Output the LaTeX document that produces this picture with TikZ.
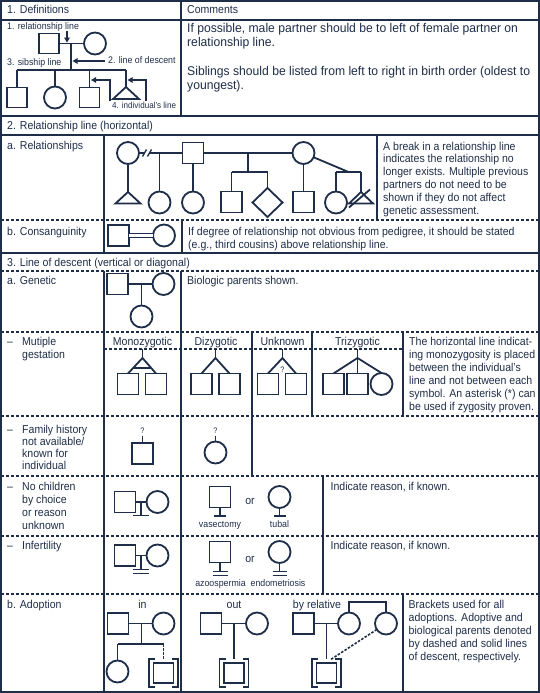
\documentclass[tikz,border=0pt]{standalone}
\usepackage{fontspec}
\setmainfont{Liberation Sans}[FakeStretch=0.92]
\newfontfamily\cfont{Liberation Sans}[FakeStretch=0.96]
\usetikzlibrary{arrows.meta}
\definecolor{ink}{RGB}{30,45,72}
\newcommand\fmain{\fontsize{11.5}{13}\selectfont}
\newcommand\fcom{\cfont\fontsize{12.7}{14}\selectfont}
\newcommand\fsmall{\fontsize{9.6}{11}\selectfont}
\newcommand\fqm{\fontsize{8}{9}\selectfont}
\newcommand\txtpara[5]{\foreach \myline [count=\ii] in {#5} {\node[tx] (#1-\ii) at (#2,{#3+(\ii-1)*#4}) {\myline};}}
\newcommand\adoptbrk[1]{%
 \draw[pl] ([xshift=1.5bp,yshift=4bp]#1.north west) -- ++(-6bp,0bp) |- ([xshift=1.5bp,yshift=-4bp]#1.south west);
 \draw[pl] ([xshift=-1.5bp,yshift=4bp]#1.north east) -- ++(6bp,0bp) |- ([xshift=-1.5bp,yshift=-4bp]#1.south east);}
\tikzset{
  tl/.style={draw=ink, line width=1.9bp},
  td/.style={draw=ink, line width=1.5bp, dash pattern=on 3bp off 2bp},
  pl/.style={draw=ink, line width=1.8bp},
  pd/.style={draw=ink, line width=1.6bp, dash pattern=on 2.5bp off 1.5bp},
  sq/.style={rectangle, draw=ink, line width=1.8bp, minimum size=21bp, inner sep=0pt, outer sep=0pt},
  ci/.style={circle, draw=ink, line width=1.8bp, minimum size=22bp, inner sep=0pt, outer sep=0pt},
  tx/.style={text=ink, font=\fmain, inner sep=0pt, anchor=base west},
  tcom/.style={text=ink, font=\fcom, inner sep=0pt, anchor=base west},
  tc/.style={text=ink, font=\fmain, inner sep=0pt, anchor=base},
  ts/.style={text=ink, font=\fsmall, inner sep=0pt, anchor=base west},
  tsc/.style={text=ink, font=\fsmall, inner sep=0pt, anchor=base},
  tq/.style={text=ink, font=\fqm, inner sep=0pt, anchor=base},
  arr/.style={pl, -{Triangle[length=5bp,width=5.5bp]}},
}
\begin{document}
\begin{tikzpicture}[x=1bp,y=-1bp]
\useasboundingbox (0,0) rectangle (540,693);
% ---------------- table grid ----------------
\draw[tl, line width=2bp] (1,1) rectangle (539,692);
\foreach \yy in {20,116,135,253} {\draw[tl] (1,\yy) -- (539,\yy);}
\foreach \yy in {220,271,332,416,476,536,594} {\draw[td] (1,\yy) -- (539,\yy);}
\draw[td] (104,349) -- (403,349);
\draw[tl] (181,1) -- (181,116);
\draw[tl] (104,135) -- (104,253);
\draw[tl] (377,135) -- (377,220);
\draw[tl] (182,220) -- (182,253);
\draw[tl] (104,271) -- (104,692);
\draw[tl] (181,271) -- (181,692);
\draw[tl] (252,332) -- (252,476);
\draw[tl] (312,332) -- (312,416);
\draw[tl] (403,332) -- (403,416);
\draw[tl] (323,476) -- (323,594);
\draw[tl] (403,594) -- (403,692);
% ---------------- section 1 ----------------
\node[tx] (h1) at (7,14) {1. Definitions};
\node[tx] (h1c) at (187,14) {Comments};
\node[tcom] (c1t-1) at (187,33) {If possible, male partner should be to left of female partner on};
\node[tcom] (c1t-2) at (187,46.5) {relationship line.};
\node[tcom] (c1s-1) at (187,76) {Siblings should be listed from left to right in birth order (oldest to};
\node[tcom] (c1s-2) at (187,89.5) {youngest).};
\node[ts] (l1) at (7,29.5) {1. relationship line};
\node[ts] (l2) at (108,64) {2. line of descent};
\node[ts] (l3) at (7,66) {3. sibship line};
\node[ts, font=\fontsize{8.8}{10}\selectfont] (l4) at (112,109) {4. individual's line};
\node[sq, minimum size=20bp] (p1) at (49,43.5) {};
\node[ci] (p2) at (95,43.5) {};
\draw[pl] (p1) -- (p2);
\coordinate (d1) at (71,43.5); \coordinate (s1) at (71,70);
\draw[pl] (d1) -- (s1);
\coordinate (sa) at (17,70); \coordinate (sb) at (55,70);
\coordinate (sc) at (89.5,70); \coordinate (sd) at (126,70);
\draw[pl] (sa) -- (sd);
\node[sq, minimum size=20bp] (k1) at (17,97.5) {};
\node[ci] (k2) at (55,97.5) {};
\node[sq, minimum size=20bp] (k3) at (89.5,97.5) {};
\coordinate (k4) at (126,87);
\draw[pl, line join=miter] (k4) -- (113,99) -- (139,99) -- cycle;
\draw[pl] (sa) -- (k1); \draw[pl] (sb) -- (k2); \draw[pl] (sc) -- (k3); \draw[pl] (sd) -- (k4);
\coordinate (a1s) at (67,31); \coordinate (a1e) at (67,42.6);
\draw[arr] (a1s) -- (a1e);
\coordinate (a2s) at (105,61); \coordinate (a2e) at (72.5,61);
\draw[arr] (a2s) -- (a2e);
\coordinate (a3s) at (110,101); \coordinate (a3e) at (91,80);
\draw[arr] (a3s) |- (a3e);
\coordinate (a4s) at (146,101); \coordinate (a4e) at (127.5,80);
\draw[arr] (a4s) |- (a4e);
% ---------------- section 2 ----------------
\node[tx] (h2) at (7,130) {2. Relationship line (horizontal)};
\node[tx] (h2a) at (7,149.5) {a. Relationships};
\node[tx] (h2b) at (7,235) {b. Consanguinity};
\txtpara{c2a}{383}{150}{12.9}{{A break in a relationship line},{indicates the relationship no},{longer exists. Multiple previous},{partners do not need to be},{shown if they do not affect},{genetic assessment.}}
\txtpara{c2b}{188}{235}{13.3}{{If degree of relationship not obvious from pedigree, it should be stated},{(e.g., third cousins) above relationship line.}}
\node[ci] (rA) at (128,153) {};
\node[sq] (rB) at (193,153) {};
\node[ci] (rC) at (303.5,153) {};
\coordinate (bk1) at (144.5,153); \coordinate (bk2) at (149.5,153);
\draw[pl] (rA) -- (bk1); \draw[pl] (bk2) -- (rB);
\draw[pl, line width=1.4bp] (142.5,156.5) -- (146.5,149.5);
\draw[pl, line width=1.4bp] (147.5,156.5) -- (151.5,149.5);
\coordinate (tA) at (128,192);
\draw[pl] (rA) -- (tA);
\draw[pl, line join=miter] (tA) -- (115.5,203.5) -- (140.5,203.5) -- cycle;
\coordinate (jD) at (159.5,153);
\node[ci] (rD) at (159.5,202.5) {};
\draw[pl] (jD) -- (rD);
\node[ci] (rE) at (193,202.5) {};
\draw[pl] (rB) -- (rE);
\draw[pl] (rB) -- (rC);
\coordinate (jBC) at (248,153); \coordinate (sBC) at (248,172);
\draw[pl] (jBC) -- (sBC);
\coordinate (sF) at (231.5,172); \coordinate (sG) at (267.5,172);
\draw[pl] (sF) -- (sG);
\node[sq] (rF) at (231.5,202) {};
\draw[pl] (sF) -- (rF);
\coordinate (rG) at (267.5,188);
\draw[pl] (sG) -- (rG);
\draw[pl, line join=miter] (rG) -- (282.5,202.5) -- (267.5,217) -- (252.5,202.5) -- cycle;
\node[sq] (rH) at (303.5,202) {};
\draw[pl] (rC) -- (rH);
\coordinate (sCI) at (348.5,172);
\draw[pl] (rC) -- (sCI);
\coordinate (sI) at (336,172); \coordinate (sJ) at (361,172);
\draw[pl] (sI) -- (sJ);
\node[ci] (rI) at (336,202.5) {};
\draw[pl] (sI) -- (rI);
\coordinate (rJ) at (361,192);
\draw[pl] (sJ) -- (rJ);
\draw[pl, line join=miter] (rJ) -- (349,203.5) -- (373,203.5) -- cycle;
\draw[pl] (349,207.5) -- (370,189.5);
\node[sq] (kS) at (118.5,235.5) {};
\node[ci] (kC) at (164,235.5) {};
\draw[draw=ink, line width=1.3bp, double=white, double distance=2.1bp] (kS) -- (kC);
% ---------------- section 3 ----------------
\node[tx] (h3) at (7,266.5) {3. Line of descent (vertical or diagonal)};
\node[tx] (h3a) at (7,284) {a. Genetic};
\node[tx] (c3a) at (187,284) {Biologic parents shown.};
\node[sq] (gS) at (117.5,284) {};
\node[ci] (gC) at (163.5,284) {};
\draw[pl] (gS) -- (gC);
\coordinate (gJ) at (141.5,284);
\node[ci] (gK) at (141.5,316.5) {};
\draw[pl] (gJ) -- (gK);
% multiple gestation
\node[tx] (mg0) at (7,345.5) {\textendash};
\txtpara{mg}{22}{345.5}{13}{{Mutiple},{gestation}}
\node[tc] (hmo) at (142.5,345.5) {Monozygotic};
\node[tc] (hdi) at (216,345.5) {Dizygotic};
\node[tc] (hun) at (282.5,345.5) {Unknown};
\node[tc] (htr) at (357.5,345.5) {Trizygotic};
\txtpara{c3m}{409}{345.5}{12.9}{{The horizontal line indicat-},{ing monozygosity is placed},{between the individual's},{line and not between each},{symbol. An asterisk (*) can},{be used if zygosity proven.}}
% mono
\coordinate (mT) at (142.5,349); \coordinate (mA) at (142.5,358);
\draw[pl] (mT) -- (mA);
\node[sq] (m1) at (128,384) {}; \node[sq] (m2) at (156,384) {};
\draw[pl] (m1.north) -- (mA) -- (m2.north);
\coordinate (mb1) at (133.2,368); \coordinate (mb2) at (151.2,368);
\draw[pl] (mb1) -- (mb2);
% di
\coordinate (dT) at (215.5,349); \coordinate (dA) at (215.5,358);
\draw[pl] (dT) -- (dA);
\node[sq] (d1) at (201.5,384) {}; \node[sq] (d2) at (229.5,384) {};
\draw[pl] (d1.north) -- (dA) -- (d2.north);
% unknown
\coordinate (uT) at (282.5,349); \coordinate (uA) at (282.5,358);
\draw[pl] (uT) -- (uA);
\node[sq] (u1) at (268,384) {}; \node[sq] (u2) at (296,384) {};
\draw[pl] (u1.north) -- (uA) -- (u2.north);
\node[tq] (uq) at (282.5,372) {?};
% tri
\coordinate (tT) at (357.5,349); \coordinate (tA2) at (357.5,358);
\draw[pl] (tT) -- (tA2);
\node[sq] (t1) at (333.5,384) {}; \node[sq] (t2) at (357.5,384) {}; \node[ci] (t3) at (381.5,384) {};
\draw[pl] (t1.north) -- (tA2) -- (t3.north);
\draw[pl] (tA2) -- (t2.north);
% family history
\node[tx] (fh0) at (7,433) {\textendash};
\txtpara{fh}{22}{433}{12.3}{{Family history},{not available/},{known for},{individual}}
\node[tq] (fq1) at (142.5,433.3) {?};
\coordinate (fv1) at (142.5,435.5);
\node[sq] (fS) at (142.5,453.5) {};
\draw[pl] (fv1) -- (fS);
\node[tq] (fq2) at (215.5,433.3) {?};
\coordinate (fv2) at (215.5,435.5);
\node[ci] (fC) at (215.5,452.5) {};
\draw[pl] (fv2) -- (fC);
% no children
\node[tx] (nc0) at (7,490.7) {\textendash};
\txtpara{nc}{22}{490.7}{12.9}{{No children},{by choice},{or reason},{unknown}}
\node[tx] (c3n) at (330.5,490.7) {Indicate reason, if known.};
\node[sq] (nS) at (125,502) {}; \node[ci] (nC) at (157.5,502) {};
\draw[pl] (nS) -- (nC);
\coordinate (nJ) at (141,502); \coordinate (nB) at (141,515.5);
\draw[pl] (nJ) -- (nB);
\coordinate (nB1) at (133,515.5); \coordinate (nB2) at (149,515.5);
\draw[pl] (nB1) -- (nB2);
\node[sq] (vS) at (220,497) {};
\coordinate (vB) at (220,516);
\draw[pl] (vS) -- (vB);
\coordinate (vB1) at (214,516); \coordinate (vB2) at (226,516);
\draw[pl] (vB1) -- (vB2);
\node[tc] (or1) at (250,504) {or};
\node[ci] (vC) at (279.5,497) {};
\coordinate (wB) at (279.5,516);
\draw[pl] (vC) -- (wB);
\coordinate (wB1) at (273.5,516); \coordinate (wB2) at (285.5,516);
\draw[pl] (wB1) -- (wB2);
\node[tsc] (lv) at (220,527.5) {vasectomy};
\node[tsc] (lt) at (279.5,527.5) {tubal};
% infertility
\node[tx] (if0) at (7,549.3) {\textendash};
\node[tx] (if1) at (22,549.3) {Infertility};
\node[tx] (c3i) at (330.5,549.3) {Indicate reason, if known.};
\node[sq] (iS) at (125,555.5) {}; \node[ci] (iC) at (157.5,555.5) {};
\draw[pl] (iS) -- (iC);
\coordinate (iJ) at (141,555.5); \coordinate (iB) at (141,569.5);
\draw[pl] (iJ) -- (iB);
\draw[pl] (133,569.5) -- (149,569.5);
\draw[pl] (133,573.5) -- (149,573.5);
\node[sq] (jS) at (220,552) {};
\coordinate (jB) at (220,571.5);
\draw[pl] (jS) -- (jB);
\draw[pl] (212.5,571.5) -- (227.5,571.5);
\draw[pl] (212.5,575.5) -- (227.5,575.5);
\node[tc] (or2) at (250,562.5) {or};
\node[ci] (jC) at (279.5,552) {};
\coordinate (jB2) at (279.5,571.5);
\draw[pl] (jC) -- (jB2);
\draw[pl] (272.5,571.5) -- (286.5,571.5);
\draw[pl] (272.5,575.5) -- (286.5,575.5);
\node[tsc] (la) at (220.5,586) {azoospermia};
\node[tsc] (le) at (278,586) {endometriosis};
% adoption
\node[tx] (ad0) at (7,608.3) {b. Adoption};
\node[tc] (adin) at (142.5,608.3) {in};
\node[tc] (adout) at (234,608.3) {out};
\node[tc] (adrel) at (317,608.3) {by relative};
\txtpara{c3b}{408.5}{608.3}{13.1}{{Brackets used for all},{adoptions. Adoptive and},{biological parents denoted},{by dashed and solid lines},{of descent, respectively.}}
% in
\node[sq] (aS) at (118,623.5) {}; \node[ci] (aC) at (163.5,623.5) {};
\draw[pl] (aS) -- (aC);
\coordinate (aJ) at (141.5,623.5); \coordinate (aK) at (141.5,644);
\draw[pl] (aJ) -- (aK);
\coordinate (aL) at (117.5,644); \coordinate (aR) at (163.5,644);
\draw[pl] (aL) -- (aR);
\node[ci] (aD) at (117.5,671.5) {};
\draw[pl] (aL) -- (aD);
\coordinate (aE) at (163.5,659);
\draw[pd] (aR) -- (aE);
\node[sq, minimum size=20bp] (aF) at (163.5,673) {};
\adoptbrk{aF}
% out
\node[sq] (oS) at (211,623.5) {}; \node[ci] (oC) at (257,623.5) {};
\draw[pl] (oS) -- (oC);
\coordinate (oJ) at (234,623.5); \coordinate (oK) at (234,659);
\draw[pl] (oJ) -- (oK);
\node[sq, minimum size=20bp] (oF) at (234,673) {};
\adoptbrk{oF}
% by relative
\node[sq] (bS) at (303.5,623.5) {}; \node[ci] (bC) at (349,623.5) {}; \node[ci] (bD) at (386,623.5) {};
\draw[pl] (bS) -- (bC);
\coordinate (bJ) at (326.5,623.5); \coordinate (bK) at (326.5,659);
\draw[pl] (bJ) -- (bK);
\node[sq, minimum size=20bp] (bF) at (326.5,673) {};
\adoptbrk{bF}
\coordinate (bU1) at (349,602); \coordinate (bU2) at (386,602);
\draw[pl] (bC.north) -- (bU1) -- (bU2) -- (bD.north);
\coordinate (bE) at (330,660);
\draw[pd] (bD) -- (bE);
\end{tikzpicture}
\end{document}
